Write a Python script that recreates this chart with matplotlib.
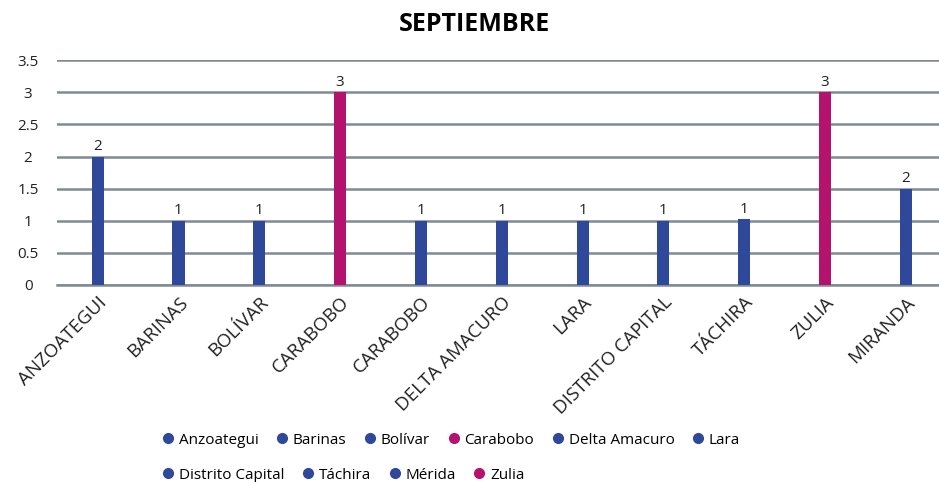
import matplotlib
matplotlib.use("Agg")
import matplotlib.pyplot as plt
from matplotlib.lines import Line2D

plt.rcParams["font.family"] = ["Open Sans", "DejaVu Sans"]

# ---- data ----
categories = ["ANZOATEGUI", "BARINAS", "BOLÍVAR", "CARABOBO", "CARABOBO",
              "DELTA AMACURO", "LARA", "DISTRITO CAPITAL", "TÁCHIRA", "ZULIA",
              "MIRANDA"]
values = [2, 1, 1, 3, 1, 1, 1, 1, 1.02, 3, 1.5]
bar_labels = ["2", "1", "1", "3", "1", "1", "1", "1", "1", "3", "2"]
highlight = [False, False, False, True, False, False, False, False, False, True, False]

legend_row1 = ["Anzoategui", "Barinas", "Bolívar", "Carabobo", "Delta Amacuro", "Lara"]
legend_row1_hl = [False, False, False, True, False, False]
legend_row2 = ["Distrito Capital", "Táchira", "Mérida", "Zulia"]
legend_row2_hl = [False, False, False, True]

BLUE = "#2F4899"
MAGENTA = "#B3136C"
GRID = "#7F8A93"

fig = plt.figure(figsize=(9.39, 4.82), dpi=100)
ax = fig.add_axes([0.061, 0.409, 0.939, 0.466])

x = list(range(len(categories)))
colors = [MAGENTA if h else BLUE for h in highlight]
bars = ax.bar(x, values, width=0.15, color=colors, zorder=3)
for b, lbl in zip(bars, bar_labels):
    ax.text(b.get_x() + b.get_width() / 2, b.get_height() + 0.04, lbl,
            ha="center", va="bottom", fontsize=11, color="#222222")

ax.set_xlim(-0.5, len(categories) - 0.59)
ax.set_ylim(0, 3.5)
ax.set_yticks([0, 0.5, 1, 1.5, 2, 2.5, 3, 3.5])
ax.set_yticklabels(["0", "0.5", "1", "1.5", "2", "2.5", "3", "3.5"], ha="center")
ax.yaxis.grid(True, color=GRID, lw=1.8, zorder=0)
ax.set_axisbelow(True)
for s in ["top", "right", "left"]:
    ax.spines[s].set_visible(False)
ax.spines["bottom"].set_color(GRID)
ax.spines["bottom"].set_linewidth(1.8)
ax.tick_params(axis="both", length=0, labelsize=11, colors="#222222")
ax.tick_params(axis="y", pad=21)
ax.tick_params(axis="x", pad=6)
ax.set_xticks(x)
ax.set_xticklabels(categories, rotation=45, ha="right", rotation_mode="anchor",
                   fontsize=13.5)

fig.suptitle("SEPTIEMBRE", x=0.505, y=0.975, fontsize=18, fontweight="bold")


def dots(flags):
    return [Line2D([], [], ls="", marker="o", ms=7,
                   color=MAGENTA if h else BLUE) for h in flags]


opts = dict(frameon=False, fontsize=11, handlelength=0.8, handletextpad=0.3,
            columnspacing=1.15, borderaxespad=0)
fig.legend(dots(legend_row1_hl), legend_row1, loc="center left",
           bbox_to_anchor=(0.166, 0.087), ncol=6, **opts)
fig.legend(dots(legend_row2_hl), legend_row2, loc="center left",
           bbox_to_anchor=(0.166, 0.014), ncol=4, **opts)

fig.savefig("out.png", dpi=100)
